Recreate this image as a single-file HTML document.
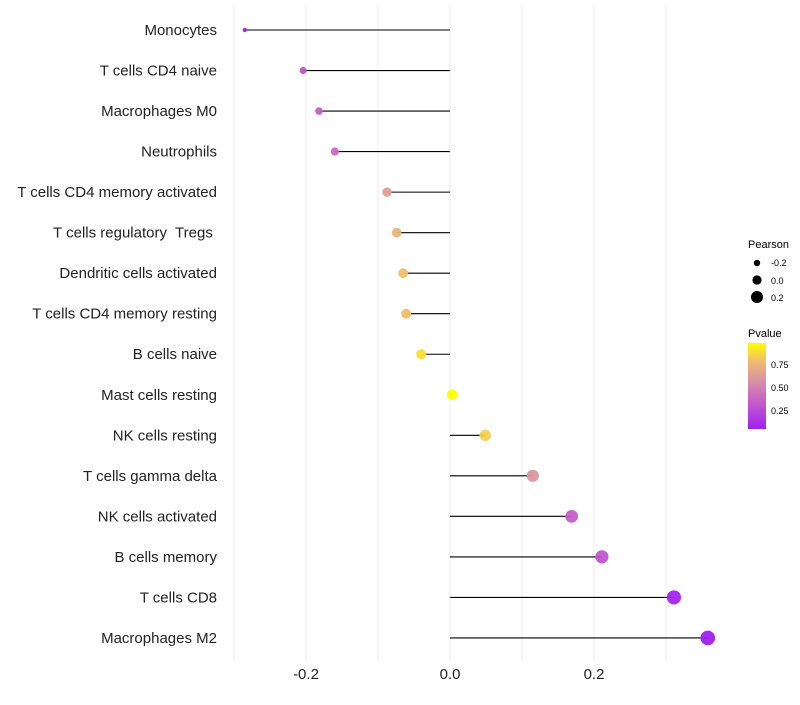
<!DOCTYPE html>
<html><head><meta charset="utf-8"><style>
body{margin:0;background:#fff;}
svg text{font-family:"Liberation Sans",sans-serif;white-space:pre;}
</style></head><body>
<svg id="chart" width="800" height="700">
<defs><linearGradient id="pg" x1="0" y1="1" x2="0" y2="0">
<stop offset="0" stop-color="#a020f0"/><stop offset="0.3" stop-color="#c55acc"/><stop offset="0.55" stop-color="#d690a6"/><stop offset="0.78" stop-color="#efba72"/><stop offset="1" stop-color="#ffff00"/>
</linearGradient></defs>
<g id="grid"></g>
<g id="marks"></g>
<g id="ylab"></g>
<g id="xlab"></g>
<g>
<text x="748" y="248" font-size="11">Pearson</text>
<circle cx="757" cy="263" r="3.2" fill="#000"/>
<text x="771" y="266" font-size="9">-0.2</text>
<circle cx="757" cy="280" r="4.6" fill="#000"/>
<text x="771" y="284" font-size="9">0.0</text>
<circle cx="757" cy="297" r="6" fill="#000"/>
<text x="771" y="301" font-size="9">0.2</text>
</g>
<g>
<text x="748" y="337" font-size="11">Pvalue</text>
<rect x="748" y="343" width="18" height="86" fill="url(#pg)"/>
<text x="771" y="368" font-size="9">0.75</text>
<text x="771" y="391" font-size="9">0.50</text>
<text x="771" y="414" font-size="9">0.25</text>
</g>
</svg>
<script>
const cells=["Monocytes","T cells CD4 naive","Macrophages M0","Neutrophils","T cells CD4 memory activated","T cells regulatory  Tregs ","Dendritic cells activated","T cells CD4 memory resting","B cells naive","Mast cells resting","NK cells resting","T cells gamma delta","NK cells activated","B cells memory","T cells CD8","Macrophages M2"];
const pearson=[-0.285,-0.204,-0.182,-0.160,-0.0875,-0.074,-0.065,-0.061,-0.040,0.003,0.049,0.115,0.169,0.211,0.311,0.358];
const pvalue=[0.05,0.3,0.35,0.4,0.65,0.75,0.8,0.8,0.9,0.99,0.85,0.6,0.35,0.3,0.08,0.03];
const xticks=[-0.2,0.0,0.2];
const xgrid=[-0.3,-0.2,-0.1,0,0.1,0.2,0.3];
const NS="http://www.w3.org/2000/svg";
const xs=v=>450+v*720;
const ys=i=>30+i*40.53;
const rs=v=>Math.max(2.2,1.5+5.8*Math.sqrt(Math.max(0,(v+0.285)/0.643)));
const stops=[[0,[160,32,240]],[0.3,[197,90,204]],[0.55,[214,144,166]],[0.78,[239,186,114]],[1,[255,255,0]]];
function col(p){const t=Math.min(1,Math.max(0,(p-0.05)/0.94));for(let k=1;k<stops.length;k++){if(t<=stops[k][0]){const a=stops[k-1],b=stops[k],f=(t-a[0])/(b[0]-a[0]);return`rgb(${a[1].map((c,j)=>Math.round(c+(b[1][j]-c)*f)).join(",")})`;}}return"rgb(255,255,0)";}
function mk(tag,at,parent){const e=document.createElementNS(NS,tag);for(const k in at)e.setAttribute(k,at[k]);document.getElementById(parent).appendChild(e);return e;}
xgrid.forEach(v=>{const l=mk("line",{x1:xs(v),x2:xs(v),y1:5,y2:662,stroke:"#ededed","stroke-width":1},"grid");

});
xticks.forEach(v=>{const t=mk("text",{x:xs(v),y:679,"font-size":15,"text-anchor":"middle",fill:"#222"},"xlab");t.textContent=v.toFixed(1);

});
cells.forEach((c,i)=>{const y=ys(i);
const t=mk("text",{x:217,y:y+5,"font-size":15,"text-anchor":"end",fill:"#222"},"ylab");t.textContent=c;


const l=mk("line",{x1:xs(0),x2:xs(pearson[i]),y1:y,y2:y,stroke:"#000","stroke-width":1.1},"marks");


const d=mk("circle",{cx:xs(pearson[i]),cy:y,r:rs(pearson[i]),fill:col(pvalue[i]),"fill-opacity":0.95},"marks");

});
</script>
</body></html>
